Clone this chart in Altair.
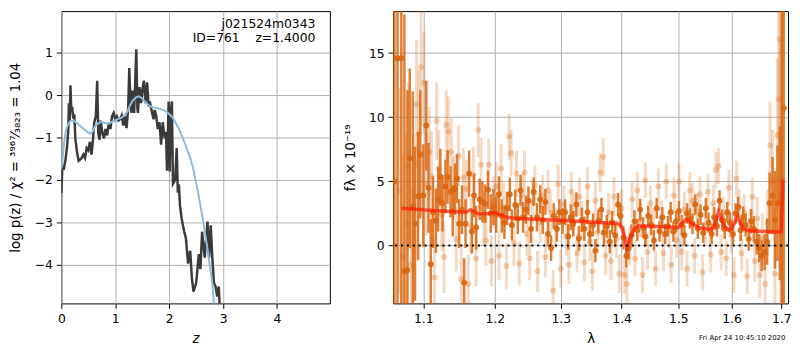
import altair as alt
import pandas as pd

# ---------------- left panel: log p(z) ----------------
pz_z = [0.00,0.02,0.05,0.08,0.11,0.13,0.14,0.155,0.17,0.185,0.20,0.22,0.24,0.26,0.29,0.32,0.35,0.38,0.41,0.44,
        0.47,0.50,0.53,0.56,0.58,0.61,0.64,0.665,0.685,0.71,0.73,0.76,0.79,0.82,0.85,0.88,0.91,0.94,0.97,1.00,
        1.03,1.06,1.09,1.12,1.15,1.18,1.21,1.24,1.26,1.28,1.30,1.32,1.35,1.37,1.39,1.41,1.42,1.45,1.48,1.50,
        1.53,1.56,1.59,1.62,1.64,1.67,1.71,1.73,1.76,1.79,1.82,1.85,1.88,1.91,1.94,1.96,1.99,2.01,2.03,2.05,
        2.07,2.11,2.14,2.16,2.18,2.20,2.23,2.26,2.28,2.31,2.35,2.39,2.42,2.45,2.50,2.55,2.58,2.61,2.66,2.71,
        2.74,2.77,2.80,2.83,2.86,2.89,2.92,2.94]
pz_lp = [-2.31,-1.70,-1.72,-1.50,-1.17,-0.80,-0.19,-0.60,0.23,-0.40,-0.27,-0.55,-0.45,-1.02,-1.33,-1.55,-1.52,-1.48,-1.40,-1.48,
         -1.25,-1.30,-1.10,-1.40,-1.15,-0.65,-0.50,0.34,-0.90,-1.05,-0.60,-0.88,-1.02,-0.80,-0.95,-0.65,-0.80,-0.50,-0.42,-0.57,
         -0.50,-0.60,-0.57,-0.48,-0.72,-0.50,-0.78,-0.30,0.64,-0.10,-0.42,0.11,-0.42,0.30,1.08,-0.30,-0.42,0.19,-0.19,0.10,
         0.34,-0.19,0.30,-0.27,-0.15,-0.34,-0.57,-0.35,-0.50,-0.80,-0.64,-1.17,-0.64,-0.95,-0.87,-1.78,-0.15,-1.80,-0.40,-0.15,
         -2.09,-2.00,-1.25,-2.30,-2.10,-2.60,-2.90,-3.10,-3.22,-3.37,-3.97,-3.67,-4.30,-4.63,-4.43,-3.75,-4.10,-3.22,-3.83,-2.98,
         -3.83,-3.07,-3.83,-4.43,-4.51,-4.75,-4.51,-5.10]

fit_z = [0.00,0.02,0.05,0.08,0.12,0.17,0.23,0.29,0.36,0.42,0.48,0.54,0.59,0.63,0.69,0.75,0.81,0.87,0.95,1.03,
         1.10,1.15,1.23,1.27,1.33,1.39,1.44,1.48,1.55,1.61,1.68,1.76,1.84,1.91,1.98,2.06,2.12,2.19,2.25,2.31,
         2.36,2.40,2.45,2.49,2.54,2.58,2.63,2.67,2.71,2.74,2.77,2.80,2.83,2.86]
fit_lp = [-1.75,-1.55,-1.15,-0.87,-0.70,-0.61,-0.60,-0.66,-0.74,-0.80,-0.86,-0.91,-0.84,-0.72,-0.66,-0.63,-0.66,-0.68,-0.62,-0.57,
          -0.54,-0.50,-0.38,-0.25,-0.12,-0.05,-0.03,-0.06,-0.15,-0.23,-0.28,-0.30,-0.33,-0.36,-0.42,-0.52,-0.65,-0.82,-1.00,-1.20,
          -1.38,-1.52,-1.76,-2.01,-2.33,-2.61,-2.97,-3.30,-3.62,-3.90,-4.17,-4.43,-4.89,-5.30]

ann_text = ["j021524m0343", "ID=761\u00a0\u00a0\u00a0\u00a0z=1.4000"]
ann_z = [4.71, 4.71]
ann_lp = [1.68, 1.35]

z_ticks = [0, 1, 2, 3, 4]
lp_ticks = [-4, -3, -2, -1, 0, 1]

# ---------------- right panel: spectrum ----------------
dk_wave = [1.062,1.066,1.071,1.075,1.079,1.082,1.086,1.089,1.093,1.096,
           1.100,1.104,1.107,1.110,1.113,1.117,1.120,1.123,1.126,1.130,
           1.133,1.137,1.140,1.143,1.146,1.149,1.153,1.156,1.158,1.163,
           1.167,1.170,1.173,1.178,1.182,1.186,1.190,1.194,1.198,1.202,
           1.206,1.210,1.214,1.218,1.222,1.225,1.230,1.234,1.238,1.242,
           1.246,1.250,1.254,1.258,1.263,1.268,1.272,1.276,1.280,1.285,
           1.289,1.294,1.298,1.303,1.307,1.312,1.316,1.320,1.325,1.329,
           1.334,1.338,1.343,1.347,1.352,1.356,1.361,1.366,1.370,1.375,
           1.380,1.384,1.389,1.394,1.398,1.403,1.408,1.412,1.417,1.422,
           1.427,1.432,1.437,1.441,1.446,1.451,1.456,1.461,1.466,1.471,
           1.476,1.481,1.486,1.491,1.496,1.501,1.506,1.511,1.516,1.521,
           1.526,1.531,1.536,1.541,1.546,1.551,1.556,1.562,1.567,1.572,
           1.577,1.582,1.587,1.592,1.597,1.603,1.608,1.613,1.618,1.623,
           1.628,1.634,1.639,1.644,1.650,1.655,1.660,1.666,1.671,1.676,
           1.682,1.687,1.692,1.697,1.701,1.705]
dk_flux = [5.0,14.6,14.6,-2.0,-1.9,6.8,3.0,1.7,3.85,7.1,
           3.9,9.35,4.5,-1.46,2.6,1.94,3.6,5.35,3.3,4.6,
           5.35,4.2,2.7,4.4,5.2,1.7,2.8,-2.9,1.7,5.6,
           1.1,3.9,1.4,3.6,3.4,3.25,4.35,2.5,3.0,2.4,
           4.0,2.3,1.8,2.9,4.0,1.6,3.15,2.1,4.3,2.2,
           2.8,3.5,1.3,4.2,2.2,3.6,2.0,3.4,0.9,-0.2,
           2.3,1.3,2.6,1.9,2.6,0.7,2.2,1.7,3.2,0.55,
           2.0,1.3,2.6,0.9,1.6,-0.4,1.9,2.8,1.0,1.5,
           0.3,1.8,0.8,3.2,2.3,0.6,-0.8,-0.2,0.8,1.9,
           1.2,2.8,1.4,0.7,2.3,1.6,0.4,2.9,1.1,2.2,
           0.9,1.5,2.6,1.1,1.9,2.7,1.6,0.8,2.5,2.1,
           1.7,3.2,1.3,2.4,1.0,2.9,1.8,0.9,2.2,1.5,
           3.5,2.0,1.3,2.6,1.8,0.9,2.5,3.0,1.2,2.2,
           1.6,0.5,1.9,1.3,0.3,-0.2,-0.8,-0.5,0.3,3.3,
           3.9,2.0,3.3,3.3,5.1,10.7]
dk_err = [30,30,30,20,14,7,9,6,5,5,
          4,3.5,3.5,3.5,2.8,2.5,2.5,2.2,2.2,2.1,
          2.1,2.0,2.0,2.0,1.9,1.9,1.9,1.9,1.9,1.8,
          1.7,1.7,1.7,1.6,1.6,1.5,1.5,1.5,1.4,1.4,
          1.4,1.3,1.3,1.3,1.3,1.2,1.2,1.2,1.2,1.2,
          1.1,1.1,1.1,1.1,1.1,1.1,1.1,1.0,1.0,1.0,
          1.0,1.0,1.0,1.0,1.0,1.0,1.0,1.0,0.95,0.95,
          0.95,0.95,0.95,0.9,0.9,0.9,0.9,0.9,0.9,0.9,
          0.9,0.9,0.9,0.9,0.9,0.9,0.9,0.9,0.85,0.85,
          0.85,0.85,0.8,0.8,0.8,0.8,0.8,0.8,0.8,0.8,
          0.8,0.8,0.8,0.8,0.8,0.8,0.8,0.8,0.8,0.8,
          0.8,0.8,0.8,0.8,0.8,0.8,0.8,0.8,0.8,0.8,
          0.8,0.8,0.8,0.8,0.8,0.8,0.8,0.8,0.85,0.85,
          0.9,0.9,0.95,1.0,1.0,1.1,1.2,1.4,1.8,2.4,
          3.0,3.8,4.5,6,25,25]

lt_wave = [1.068,1.073,1.077,1.080,1.084,1.087,1.091,1.094,1.097,1.101,
           1.104,1.108,1.111,1.115,1.118,1.121,1.125,1.128,1.131,1.134,
           1.138,1.141,1.145,1.148,1.152,1.155,1.159,1.162,1.166,1.169,
           1.173,1.176,1.180,1.184,1.187,1.191,1.195,1.198,1.202,1.206,
           1.209,1.213,1.217,1.221,1.224,1.228,1.232,1.236,1.240,1.244,
           1.248,1.252,1.256,1.260,1.264,1.268,1.272,1.276,1.280,1.284,
           1.288,1.292,1.296,1.300,1.305,1.309,1.313,1.317,1.321,1.326,
           1.330,1.334,1.338,1.343,1.347,1.351,1.356,1.360,1.364,1.369,
           1.373,1.378,1.382,1.387,1.391,1.396,1.400,1.405,1.409,1.414,
           1.418,1.423,1.427,1.432,1.436,1.441,1.445,1.450,1.455,1.459,
           1.464,1.469,1.473,1.478,1.483,1.487,1.492,1.497,1.501,1.506,
           1.511,1.516,1.521,1.526,1.530,1.535,1.540,1.545,1.550,1.555,
           1.560,1.565,1.570,1.575,1.580,1.585,1.590,1.595,1.600,1.605,
           1.610,1.615,1.620,1.625,1.631,1.636,1.641,1.646,1.651,1.656,
           1.661,1.667,1.672,1.677,1.682,1.687,1.692,1.695,1.697,1.699]
lt_flux = [4.3,-0.9,1.7,6.2,-1.5,3.2,11.0,8.7,13.9,12.7,
           4.8,7.3,5.4,-2.5,9.7,6.0,2.4,-0.9,9.4,8.9,
           7.3,4.5,0.5,7.0,-2.6,5.3,4.4,-3.0,1.5,5.5,
           -1.0,9.0,6.3,2.1,0.4,6.3,-1.2,3.4,4.6,-0.8,
           6.0,3.0,-1.6,8.5,7.2,0.2,5.6,-1.4,3.9,5.7,
           0.9,-1.0,3.4,4.7,-2.0,1.8,3.9,-0.9,4.3,2.6,
           -3.5,1.4,4.8,-1.8,3.2,0.7,-1.5,4.2,2.5,-0.6,
           3.8,2.0,-1.3,4.6,0.3,-2.0,3.5,1.0,5.7,6.9,
           -0.8,2.6,-1.2,3.8,0.5,-2.2,2.9,-2.3,-3.0,0.0,
           3.6,-1.0,4.3,2.0,-2.3,5.1,-0.5,3.3,1.5,-1.8,
           4.6,2.1,-0.6,5.0,1.2,-1.5,3.9,0.4,5.0,-0.5,
           2.8,-1.8,4.3,3.5,-0.8,2.7,4.0,-2.1,1.5,4.2,
           -0.7,3.3,5.9,6.2,-0.5,2.4,-1.0,4.5,0.8,-2.3,
           5.2,3.0,-0.6,2.6,-2.4,1.4,3.8,-1.2,2.1,-2.3,
           0.5,-3.0,1.8,7.8,5.0,-2.2,8.6,11.4,16.1,4.0]
lt_err = [8,8,7,6.5,6,5.5,5,5,4.5,4,
          4,3.5,3.5,3.2,3.0,3.0,2.8,2.8,2.7,2.7,
          2.6,2.5,2.5,2.4,2.4,2.3,2.3,2.3,2.2,2.2,
          2.2,2.1,2.1,2.1,2.0,2.0,2.0,2.0,1.9,1.9,
          1.9,1.9,1.8,1.8,1.8,1.8,1.8,1.7,1.7,1.7,
          1.7,1.7,1.7,1.6,1.6,1.6,1.6,1.6,1.6,1.6,
          1.6,1.6,1.5,1.5,1.5,1.5,1.5,1.5,1.5,1.5,
          1.5,1.5,1.5,1.5,1.5,1.5,1.5,1.5,1.5,1.5,
          1.5,1.5,1.5,1.5,1.5,1.5,1.5,1.5,1.5,1.5,
          1.4,1.4,1.4,1.4,1.4,1.4,1.4,1.4,1.4,1.4,
          1.4,1.4,1.4,1.4,1.4,1.4,1.4,1.4,1.4,1.4,
          1.4,1.4,1.4,1.4,1.4,1.4,1.4,1.4,1.4,1.4,
          1.4,1.4,1.4,1.4,1.4,1.4,1.4,1.4,1.4,1.4,
          1.4,1.4,1.4,1.4,1.4,1.4,1.5,1.6,1.7,1.8,
          2.0,2.2,2.6,3.4,4.0,5.0,6.0,8,10,12]

mod_wave = [1.0713,1.1074,1.158,1.165,1.177,1.191,1.200,1.2175,1.235,1.305,
            1.391,1.397,1.403,1.409,1.415,1.422,1.430,1.500,1.507,1.515,
            1.523,1.538,1.557,1.566,1.575,1.585,1.594,1.600,1.612,1.623,
            1.634,1.695,1.700,1.7033]
mod_flux = [2.9,2.75,2.6,2.8,2.45,2.5,2.6,2.2,2.1,1.95,
            1.72,1.65,1.1,-0.2,0.6,1.35,1.55,1.4,1.75,2.05,
            1.75,1.4,1.25,1.35,2.65,1.6,1.2,1.3,2.25,1.3,
            1.15,1.05,1.1,5.1]

wave_ticks = [1.1, 1.2, 1.3, 1.4, 1.5, 1.6, 1.7]
flux_ticks = [0, 5, 10, 15]
stamp = "Fri Apr 24 10:45:10 2020"

ORANGE = "#d9660f"
H = 296

# ---------------- build left chart ----------------
df_pz = pd.DataFrame({"z": pz_z, "lp": pz_lp})
df_fit = pd.DataFrame({"z": fit_z, "lp": fit_lp})
df_ann = pd.DataFrame({"z": ann_z, "lp": ann_lp, "t": ann_text})

ytitle = "log p(z) / \u03c7\u00b2 = \u00b3\u2079\u2076\u2077\u2044\u2083\u2088\u2082\u2083 = 1.04"
xz = alt.X("z:Q", scale=alt.Scale(domain=[0, 4.98], nice=False, zero=False),
           axis=alt.Axis(values=z_ticks, title="z", titleFontStyle="italic", format="d"))
yz = alt.Y("lp:Q", scale=alt.Scale(domain=[-4.91, 1.98], nice=False, zero=False),
           axis=alt.Axis(values=lp_ticks, title=ytitle, format="d", titlePadding=12))

dark = alt.Chart(df_pz).mark_line(color="#3a3a3a", strokeWidth=2.5, clip=True).encode(x=xz, y=yz)
blue = alt.Chart(df_fit).mark_line(color="#8dbbdc", strokeWidth=2, clip=True).encode(x="z:Q", y="lp:Q")
ann = alt.Chart(df_ann).mark_text(align="right", baseline="middle", fontSize=12.5,
                                  font="DejaVu Sans", color="black").encode(x="z:Q", y="lp:Q", text="t:N")
left = alt.layer(dark, blue, ann).properties(width=272, height=H)

# ---------------- build right chart ----------------
df_dk = pd.DataFrame({"w": dk_wave, "f": dk_flux, "e": dk_err})
df_dk["lo"] = df_dk["f"] - df_dk["e"]
df_dk["hi"] = df_dk["f"] + df_dk["e"]
df_lt = pd.DataFrame({"w": lt_wave, "f": lt_flux, "e": lt_err})
df_lt["lo"] = df_lt["f"] - df_lt["e"]
df_lt["hi"] = df_lt["f"] + df_lt["e"]
df_mod = pd.DataFrame({"w": mod_wave, "f": mod_flux})
df_zero = pd.DataFrame({"f": [0]})
df_stamp = pd.DataFrame({"w": [1.621], "f": [-7.2], "t": [stamp]})

xw = alt.X("w:Q", scale=alt.Scale(type="log", domain=[1.0603, 1.714], nice=False, zero=False),
           axis=alt.Axis(values=wave_ticks, format=".1f", title="\u03bb"))
yf = alt.Y("f:Q", scale=alt.Scale(domain=[-4.51, 18.27], nice=False, zero=False),
           axis=alt.Axis(values=flux_ticks, format="d", title="f\u03bb \u00d7 10\u207b\u00b9\u2079", titlePadding=11))

lt_bar = alt.Chart(df_lt).mark_rule(color=ORANGE, opacity=0.25, strokeWidth=3, clip=True).encode(
    x=xw, y=alt.Y("lo:Q"), y2="hi:Q")
lt_pt = alt.Chart(df_lt).mark_circle(color=ORANGE, opacity=0.3, size=36, clip=True).encode(x="w:Q", y=yf)
dk_bar = alt.Chart(df_dk).mark_rule(color=ORANGE, opacity=0.85, strokeWidth=2.5, clip=True).encode(
    x="w:Q", y="lo:Q", y2="hi:Q")
dk_pt = alt.Chart(df_dk).mark_circle(color=ORANGE, opacity=0.9, size=36, clip=True).encode(x="w:Q", y="f:Q")
model = alt.Chart(df_mod).mark_line(color="#ff1a00", opacity=0.7, strokeWidth=3.5, clip=True).encode(
    x="w:Q", y="f:Q")
zero = alt.Chart(df_zero).mark_rule(color="black", strokeWidth=2, strokeDash=[2, 4]).encode(y="f:Q")
stamp_t = alt.Chart(df_stamp).mark_text(fontSize=7, font="DejaVu Sans", color="black",
                                        baseline="middle", clip=False).encode(x="w:Q", y="f:Q", text="t:N")

right = alt.layer(lt_bar, lt_pt, dk_bar, dk_pt, model, zero, stamp_t).properties(width=400, height=H)

chart = alt.hconcat(left, right, spacing=12).properties(padding=0).configure(
    font="DejaVu Sans"
).configure_axis(
    labelFont="DejaVu Sans", labelFontSize=12.5, labelColor="black",
    titleFont="DejaVu Sans", titleFontSize=13.5, titleFontWeight="normal", titleColor="black",
    tickColor="black", tickSize=5, tickWidth=1, domain=False,
    gridColor="#b0b0b0", gridWidth=1, gridOpacity=1, labelPadding=4,
    labelFlush=False, labelOverlap=False
).configure_axisX(titlePadding=7).configure_view(stroke="black", strokeWidth=1)

chart.save("out.html", embed_options={"renderer": "svg", "actions": False})
